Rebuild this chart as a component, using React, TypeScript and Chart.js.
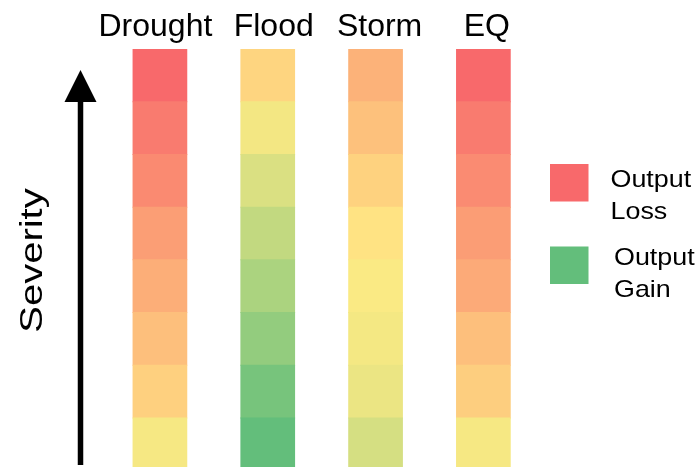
import React, { useEffect, useRef } from "react";
import { Chart, registerables } from "chart.js";

Chart.register(...registerables);

// Hazard types (columns)
const hazards = ["Drought", "Flood", "Storm", "EQ"];
// Severity levels, least severe (bottom) to most severe (top)
const severityLevels = ["1", "2", "3", "4", "5", "6", "7", "8"];
// Output impact index per severity level: +1 = strongest loss, 0 = neutral, -1 = strongest gain
const droughtImpact = [-0.06, 0.21, 0.34, 0.47, 0.59, 0.75, 0.86, 1.0];
const floodImpact = [-1.0, -0.87, -0.69, -0.54, -0.39, -0.24, -0.08, 0.17];
const stormImpact = [-0.27, -0.13, -0.07, -0.03, 0.06, 0.19, 0.32, 0.44];
const eqImpact = [-0.06, 0.22, 0.34, 0.5, 0.6, 0.74, 0.86, 1.0];
const legendLabels = [["Output", "Loss"], ["Output", "Gain"]];
const legendImpact = [1, -1];
const axisTitle = "Severity";

const impacts = [droughtImpact, floodImpact, stormImpact, eqImpact];

const LOSS = [248, 105, 107];
const MID = [255, 235, 132];
const GAIN = [99, 190, 123];

function colorFor(v: number): string {
  const end = v >= 0 ? LOSS : GAIN;
  const t = Math.min(1, Math.abs(v));
  const c = MID.map((m, i) => Math.round(m + (end[i] - m) * t));
  return `rgb(${c[0]},${c[1]},${c[2]})`;
}

const FONT = '"Liberation Sans", Arial, sans-serif';
const labelNudge = [-4.5, 6, 4, 3.5];

const decorPlugin = {
  id: "decor",
  afterDraw(chart: any) {
    const ctx = chart.ctx as CanvasRenderingContext2D;
    const xs = chart.scales.x;
    ctx.save();
    ctx.fillStyle = "#000";
    // column titles
    ctx.font = `32px ${FONT}`;
    ctx.textAlign = "center";
    ctx.textBaseline = "alphabetic";
    hazards.forEach((h, i) => {
      ctx.fillText(h, xs.getPixelForValue(i) + labelNudge[i], 36);
    });

    // severity arrow
    const ax = 80.5;
    ctx.strokeStyle = "#000";
    ctx.lineWidth = 5.5;
    ctx.beginPath();
    ctx.moveTo(ax, 465);
    ctx.lineTo(ax, 100);
    ctx.stroke();
    ctx.beginPath();
    ctx.moveTo(ax, 70);
    ctx.lineTo(ax - 16, 102);
    ctx.lineTo(ax + 16, 102);
    ctx.closePath();
    ctx.fill();

    // severity title
    ctx.save();
    ctx.translate(42, 260.5);
    ctx.rotate(-Math.PI / 2);
    ctx.scale(1.29, 1);
    ctx.font = `31px ${FONT}`;
    ctx.textAlign = "center";
    ctx.fillText(axisTitle, 0, 0);
    ctx.restore();

    // legend
    const boxTops = [164, 246.5];
    const textX = [610.5, 614];
    const baselines = [[187, 219], [264.5, 297]];
    legendLabels.forEach((lines, i) => {
      ctx.fillStyle = colorFor(legendImpact[i]);
      ctx.fillRect(550, boxTops[i], 38.5, 37.5);
      ctx.fillStyle = "#000";
      lines.forEach((line, j) => {
        ctx.save();
        ctx.translate(textX[i], baselines[i][j]);
        ctx.scale(1.12, 1);
        ctx.font = `24px ${FONT}`;
        ctx.textAlign = "left";
        ctx.fillText(line, 0, 0);
        ctx.restore();
      });
    });
    ctx.restore();
  },
};

export default function App() {
  const ref = useRef<HTMLCanvasElement>(null);
  useEffect(() => {
    if (!ref.current) return;
    const chart = new Chart(ref.current, {
      type: "bar",
      data: {
        labels: hazards,
        datasets: severityLevels.map((lvl, i) => ({
          label: lvl,
          data: hazards.map(() => 1),
          backgroundColor: impacts.map((arr) => colorFor(arr[i])),
          borderWidth: 0,
          inflateAmount: 0.5,
          categoryPercentage: 1,
          barPercentage: 0.498,
          stack: "s",
        })),
      },
      options: {
        animation: false,
        responsive: false,
        devicePixelRatio: 1,
        layout: { padding: { left: 106, right: 162.7, top: 49, bottom: 0 } },
        scales: {
          x: { stacked: true, display: false, offset: true },
          y: { stacked: true, display: false, min: 0.07, max: 8 },
        },
        plugins: {
          legend: { display: false },
          tooltip: { enabled: false },
        },
      },
      plugins: [decorPlugin],
    });
    return () => chart.destroy();
  }, []);
  return (
    <div style={{ position: "fixed", left: 0, top: 0, width: 700, height: 467, background: "#fff" }}>
      <canvas ref={ref} width={700} height={467} style={{ display: "block" }} />
    </div>
  );
}
